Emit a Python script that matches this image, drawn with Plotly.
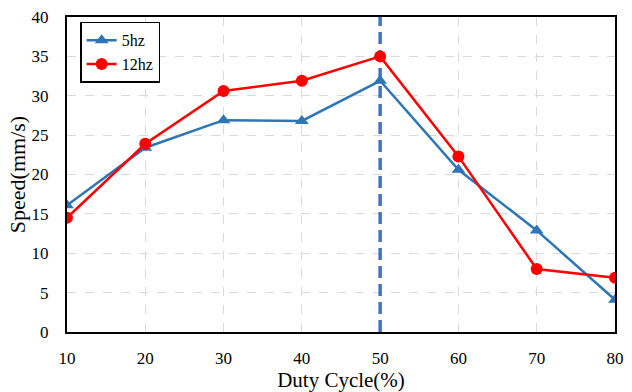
import plotly.graph_objects as go

duty = [10, 20, 30, 40, 50, 60, 70, 80]
speed_5hz = [16.1, 23.4, 26.9, 26.8, 31.9, 20.6, 12.9, 4.1]
speed_12hz = [14.5, 23.9, 30.6, 31.9, 35.0, 22.3, 8.0, 6.9]
marker_x = [50, 50]
marker_y = [0, 40]

font = "Liberation Serif"

fig = go.Figure()
fig.add_trace(go.Scatter(x=marker_x, y=marker_y, mode="lines", showlegend=False,
                         line=dict(color="#4472C4", width=3.5, dash="12px,6px"), hoverinfo="skip"))
fig.add_trace(go.Scatter(x=duty, y=speed_5hz, name="5hz", mode="lines+markers",
                         line=dict(color="#2E75B6", width=2.5),
                         marker=dict(symbol="triangle-up", size=12, color="#2E75B6")))
fig.add_trace(go.Scatter(x=duty, y=speed_12hz, name="12hz", mode="lines+markers",
                         line=dict(color="#FF0000", width=2.5),
                         marker=dict(symbol="circle", size=12, color="#FF0000")))

fig.update_layout(
    width=632, height=392,
    margin=dict(l=67, r=8, t=15, b=60),
    paper_bgcolor="white", plot_bgcolor="white",
    font=dict(family=font, size=16, color="black"),
    legend=dict(x=0.024, y=0.985, xanchor="left", yanchor="top",
                bordercolor="black", borderwidth=1.5, bgcolor="white",
                font=dict(family=font, size=16), tracegroupgap=0, itemwidth=30),
)
fig.update_xaxes(range=[10, 80], tickvals=duty, showgrid=True,
                 tickfont=dict(family=font, size=17, color="black"),
                 gridcolor="#D9D9D9", griddash="dash", gridwidth=1,
                 showline=True, linecolor="black", linewidth=2, mirror=True,
                 ticks="outside", ticklen=10, tickcolor="rgba(0,0,0,0)", zeroline=False,
                 title=dict(text="Duty Cycle(%)", font=dict(family=font, size=21), standoff=0))
fig.update_yaxes(range=[0, 40], dtick=5, showgrid=True,
                 tickfont=dict(family=font, size=17, color="black"),
                 gridcolor="#D9D9D9", griddash="dash", gridwidth=1,
                 showline=True, linecolor="black", linewidth=2, mirror=True,
                 ticks="outside", ticklen=13, tickcolor="rgba(0,0,0,0)", zeroline=False,
                 title=dict(text="Speed(mm/s)", font=dict(family=font, size=22), standoff=0))

fig.write_html("out.html", post_script="document.body.style.margin='0';",
               config={"displayModeBar": False})
